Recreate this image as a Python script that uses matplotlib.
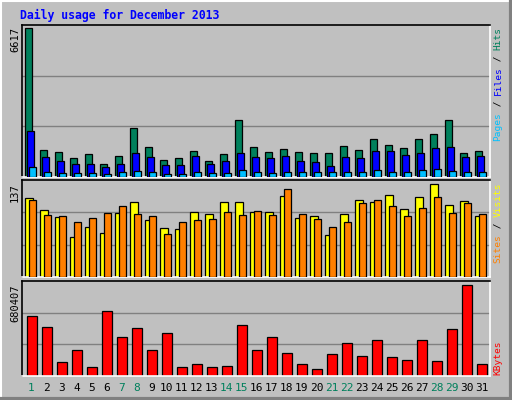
import matplotlib
matplotlib.use("Agg")
import matplotlib.pyplot as plt
from matplotlib.lines import Line2D

days = list(range(1, 32))
weekend = [1, 7, 8, 14, 15, 21, 22, 28, 29]
hits_top = [28,391,397,415,403,430,409,325,382,421,415,394,424,403,301,382,397,388,397,400,400,379,391,358,376,385,358,343,301,400,394]
files_top = [334,412,424,430,430,439,430,400,412,433,433,409,430,424,400,412,415,409,424,427,436,412,415,394,394,406,400,385,382,412,409]
pages_top = [439,455,458,458,458,461,455,452,455,461,461,455,458,458,449,455,458,455,455,455,455,455,455,449,455,455,449,446,452,455,455]
hits = [round((470 - t) * 6617 / 442) for t in hits_top]
files = [round((470 - t) * 6617 / 442) for t in files_top]
pages = [round((470 - t) * 6617 / 442) for t in pages_top]
visits_top = [70,106,127,187,157,175,115,82,136,160,163,112,118,82,82,112,112,64,130,124,181,118,76,82,61,103,67,28,91,79,124]
sites_top = [76,121,124,142,130,115,94,118,124,178,142,136,133,112,121,109,121,43,118,133,157,142,85,76,94,124,100,67,115,85,118]
visits = [(304 - t) * 137 / 276 for t in visits_top]
sites = [(304 - t) * 137 / 276 for t in sites_top]
kb_top = [136,169,273,238,289,121,199,172,238,187,289,280,289,286,163,238,199,247,280,295,250,217,256,208,259,268,208,271,175,43,280]
kbytes = [(316 - t) / 273 * 680407 for t in kb_top]

W, H = 512, 400
fig = plt.figure(figsize=(5.12, 4.0), dpi=100, facecolor="#C0C0C0")
mono = "DejaVu Sans Mono"

def axes_px(x0, y0, x1, y1):
    return fig.add_axes([x0 / W, 1 - y1 / H, (x1 - x0) / W, (y1 - y0) / H])

def style(ax, top):
    ax.set_facecolor("#C0C0C0")
    ax.set_xlim(0, 468)
    ax.set_ylim(0, top)
    ax.set_xticks([]); ax.set_yticks([])
    for s in ["top", "left"]:
        ax.spines[s].set_color("black")
    for s in ["right", "bottom"]:
        ax.spines[s].set_color("white")
    for s in ax.spines.values():
        s.set_linewidth(1.2)
    for f in (1/3, 2/3):
        ax.axhline(top * f, color="#808080", lw=1, zorder=0)

ax1 = axes_px(22, 25, 490, 177)
top1 = 6617 * 1.02
style(ax1, top1)
for i in range(31):
    x = 3.3 + 15 * i
    ax1.bar(x, hits[i], width=7, align="edge", color="#00805C", edgecolor="black", lw=0.9, zorder=2)
    ax1.bar(x + 2, files[i], width=7, align="edge", color="#0000FF", edgecolor="black", lw=0.9, zorder=3)
    ax1.bar(x + 4, pages[i], width=7, align="edge", color="#00C0FF", edgecolor="black", lw=0.9, zorder=4)

ax2 = axes_px(22, 180, 490, 277)
top2 = 137 * 1.04
style(ax2, top2)
for i in range(31):
    x = 3.3 + 15 * i
    ax2.bar(x, visits[i], width=8, align="edge", color="#FFFF00", edgecolor="black", lw=0.9, zorder=2)
    ax2.bar(x + 4, sites[i], width=7, align="edge", color="#FF8000", edgecolor="black", lw=0.9, zorder=3)

ax3 = axes_px(22, 281, 490, 376)
top3 = 680407 * 1.04
style(ax3, top3)
for i in range(31):
    x = 4.5 + 15 * i
    ax3.bar(x, kbytes[i], width=10, align="edge", color="#FF0000", edgecolor="black", lw=0.9, zorder=2)

for i, d in enumerate(days):
    fig.text((22 + 4.5 + 15 * i + 5) / W, 1 - 388 / H, str(d), ha="center", va="center",
             fontsize=8, family=mono, color="#00805C" if d in weekend else "black")

fig.text(20 / W, 1 - 15 / H, "Daily usage for December 2013", fontsize=8.3, family=mono,
         weight="bold", color="#0000FF", ha="left", va="center")

def vlabel(x, y_top, text):
    fig.text(x / W, 1 - y_top / H, text, rotation=90, ha="center", va="top",
             fontsize=7.5, family=mono, color="black")

vlabel(15, 27, "6617")
vlabel(15, 183, "137")
vlabel(15, 284, "680407")

fs = 6.8
cw = 0.602 * fs * 100 / 72

def multi(x, y_start, segs):
    y = y_start
    for txt, col in segs:
        fig.text(x / W, 1 - y / H, txt, rotation=90, rotation_mode="anchor", ha="left", va="center",
                 fontsize=fs, family=mono, color=col)
        y -= len(txt) * cw

multi(498, 27 + 20 * cw, [("Pages", "#00C0FF"), (" / ", "black"), ("Files", "#0000FF"), (" / ", "black"), ("Hits", "#00805C")])
multi(498, 183 + 14 * cw, [("Sites", "#FF8000"), (" / ", "black"), ("Visits", "#FFFF00")])
multi(498, 375, [("KBytes", "#FF0000")])

# outer bevel border
def line(x0, y0, x1, y1, c, lw=1.5):
    fig.add_artist(Line2D([x0 / W, x1 / W], [1 - y0 / H, 1 - y1 / H], color=c, lw=lw, transform=fig.transFigure))
line(0.5, 0.5, 511.5, 0.5, "white"); line(0.5, 0.5, 0.5, 399.5, "white")
line(0.5, 399, 511.5, 399, "#808080", 3); line(511, 0.5, 511, 399.5, "#808080", 3)

fig.savefig("out.png", dpi=100, facecolor="#C0C0C0")
